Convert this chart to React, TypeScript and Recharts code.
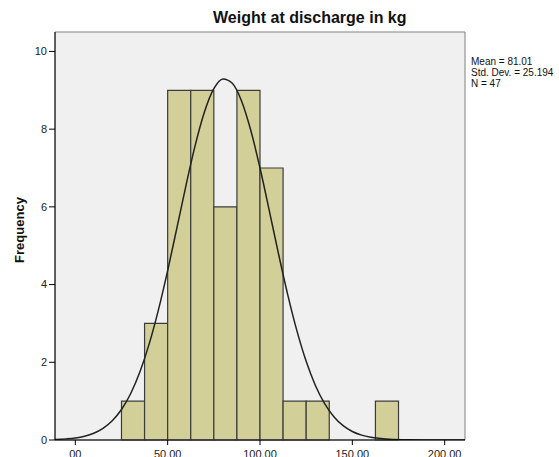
import React from 'react';
import {
  ComposedChart,
  Line,
  XAxis,
  YAxis,
  CartesianGrid,
  ReferenceArea,
} from 'recharts';

// histogram bins (12.5 kg wide)
const binStarts = [25, 37.5, 50, 62.5, 75, 87.5, 100, 112.5, 125, 137.5, 150, 162.5];
const binCounts = [1, 3, 9, 9, 6, 9, 7, 1, 1, 0, 0, 1];
const binWidth = 12.5;

// fitted normal curve
const curveX = [
  -11, -5, 0, 5, 10, 15, 20, 25, 30, 35, 40, 45, 50, 55, 60, 65, 70, 75, 80, 85, 90, 95, 100,
  105, 110, 115, 120, 125, 130, 135, 140, 145, 150, 155, 160, 170, 180, 190, 200, 211,
];
const curveY = [
  0.012, 0.029, 0.053, 0.098, 0.175, 0.3, 0.496, 0.786, 1.197, 1.755, 2.473, 3.349, 4.36,
  5.458, 6.568, 7.6, 8.453, 9.04, 9.293, 9.18, 8.726, 7.97, 7.001, 5.91, 4.797, 3.743, 2.809,
  2.026, 1.404, 0.936, 0.6, 0.369, 0.219, 0.125, 0.068, 0.018, 0.004, 0.001, 0, 0,
];

const xTicks = [0, 50, 100, 150, 200];
const xTickLabels = ['00', '50.00', '100.00', '150.00', '200.00'];
const yTicks = [0, 2, 4, 6, 8, 10];

const statLines = ['Mean = 81.01', 'Std. Dev. = 25.194', 'N = 47'];

const xDomain: [number, number] = [-11, 211];
const yDomain: [number, number] = [0, 10.5];

const curveData = curveX.map((x, i) => ({ x, y: curveY[i] }));

export default function App() {
  return (
    <div
      style={{
        position: 'absolute',
        left: 0,
        top: 0,
        width: 559,
        height: 457,
        background: '#fff',
        fontFamily: '"Liberation Sans", Arial, sans-serif',
        overflow: 'hidden',
      }}
    >
      <ComposedChart
        width={559}
        height={457}
        data={curveData}
        margin={{ top: 32, right: 94, bottom: 0, left: 0 }}
      >
        <CartesianGrid fill="#f0f0f0" horizontal={false} vertical={false} />
        <XAxis
          type="number"
          dataKey="x"
          domain={xDomain}
          ticks={xTicks}
          allowDataOverflow
          height={17}
          tickSize={5}
          tickMargin={5}
          tickFormatter={(v: number) => xTickLabels[xTicks.indexOf(v)] ?? String(v)}
          stroke="#000"
          tick={{ fontSize: 11, fill: '#222' }}
        />
        <YAxis
          type="number"
          domain={yDomain}
          ticks={yTicks}
          allowDataOverflow
          width={55}
          tickSize={6}
          tickMargin={2}
          stroke="#000"
          tick={{ fontSize: 11, fill: '#222' }}
        />
        {binStarts.map((s, i) =>
          binCounts[i] > 0 ? (
            <ReferenceArea
              key={i}
              x1={s}
              x2={s + binWidth}
              y1={0}
              y2={binCounts[i]}
              fill="#d3cf99"
              fillOpacity={1}
              stroke="#3c3c3c"
              strokeWidth={1.2}
            />
          ) : null
        )}
        {/* plot frame */}
        <ReferenceArea
          x1={xDomain[0]}
          x2={xDomain[1]}
          y1={yDomain[0]}
          y2={yDomain[1]}
          fill="none"
          stroke="#808080"
          strokeWidth={1}
        />
        <Line
          type="monotone"
          dataKey="y"
          stroke="#222"
          strokeWidth={1.5}
          dot={false}
          activeDot={false}
          isAnimationActive={false}
        />
      </ComposedChart>

      {/* Заголовок */}
      <div
        style={{
          position: 'absolute',
          left: 213,
          top: 9,
          fontSize: 16,
          fontWeight: 'bold',
          color: '#111',
          whiteSpace: 'nowrap',
        }}
      >
        Weight at discharge in kg
      </div>

      {/* Статистика */}
      <div
        style={{
          position: 'absolute',
          left: 471,
          top: 56,
          fontSize: 10,
          lineHeight: '11px',
          color: '#111',
          whiteSpace: 'nowrap',
        }}
      >
        {statLines.map(l => (
          <div key={l}>{l}</div>
        ))}
      </div>

      {/* Подпись оси Y */}
      <div
        style={{
          position: 'absolute',
          left: 19,
          top: 230,
          transform: 'translate(-50%, -50%) rotate(-90deg)',
          fontSize: 13,
          fontWeight: 'bold',
          color: '#111',
          whiteSpace: 'nowrap',
        }}
      >
        Frequency
      </div>
    </div>
  );
}
